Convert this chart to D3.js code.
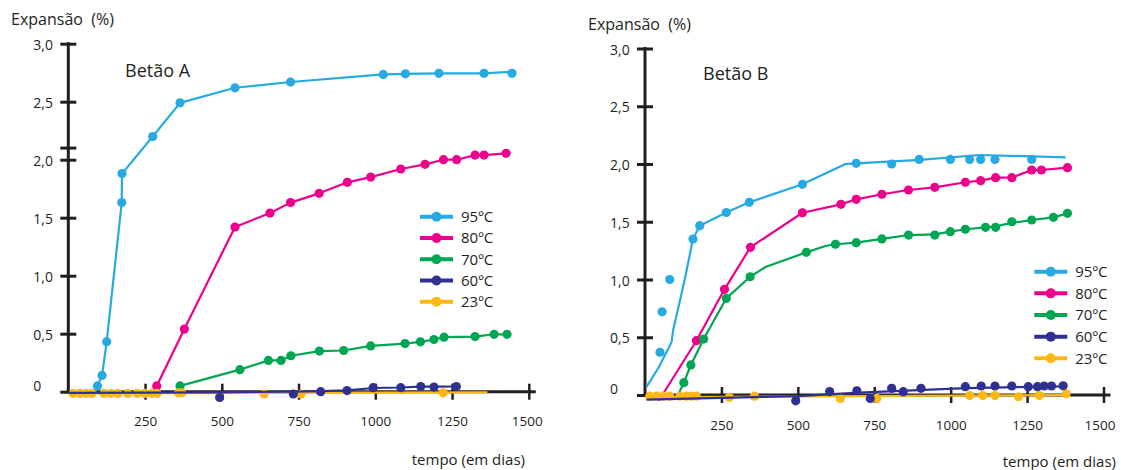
<!DOCTYPE html>
<html><head><meta charset="utf-8">
<script src="https://cdn.jsdelivr.net/npm/d3@7"></script>
<style>
body{margin:0;background:#fff}
text{font-family:"Open Sans",sans-serif;fill:#231f20}
</style>
</head><body>
<svg id="c" width="1121" height="470"></svg>
<script>
// ---------- shared labels / ticks ----------
const seriesNames = ["95ºC","80ºC","70ºC","60ºC","23ºC"];
const seriesColors = ["#27aae1","#ec008c","#00a651","#2e3192","#fdb913"];
const xTicks = [250,500,750,1000,1250,1500];
const yTicks = [0,0.5,1,1.5,2,2.5,3];
const yTickLabels = ["0","0,5","1,0","1,5","2,0","2,5","3,0"];
const panelTitles = ["Betão A","Betão B"];
const yTitle = "Expansão  (%)";
const xTitle = "tempo (em dias)";
const breakTickA = 2.1;

// ---------- Betão A (days, expansion %) ----------
const a95 = [[95,0.05],[110,0.14],[125,0.43],[174,1.63],[175,1.88],[275,2.20],[364,2.49],[543,2.62],[724,2.67],[1026,2.735],[1098,2.74],[1207,2.745],[1354,2.745],[1445,2.745]];
const a95Line = [[87,-0.01],[95,0.05],[110,0.14],[125,0.43],[174,1.63],[175,1.88],[275,2.20],[364,2.49],[543,2.62],[724,2.67],[1026,2.735],[1098,2.74],[1207,2.745],[1354,2.745],[1458,2.76]];
const a80 = [[288,0.05],[378,0.54],[543,1.42],[657,1.54],[724,1.63],[817,1.71],[909,1.805],[985,1.85],[1083,1.92],[1162,1.96],[1222,2.0],[1265,2.0],[1325,2.04],[1354,2.04],[1426,2.055]];
const a80Line = [[277,0],[288,0.05],[378,0.54],[543,1.42],[657,1.54],[724,1.63],[817,1.71],[909,1.805],[985,1.85],[1083,1.92],[1162,1.96],[1222,2.0],[1265,2.0],[1325,2.04],[1354,2.04],[1426,2.055]];
const a70 = [[364,0.05],[559,0.19],[652,0.27],[693,0.27],[725,0.31],[818,0.35],[897,0.355],[985,0.395],[1097,0.415],[1147,0.43],[1191,0.45],[1224,0.47],[1325,0.475],[1387,0.495],[1429,0.495]];
const a60 = [[493,-0.05],[733,-0.02],[822,0.0],[908,0.01],[993,0.035],[1083,0.035],[1148,0.045],[1191,0.04],[1264,0.045]];
const a60Line = [[0,-0.01],[493,-0.005],[733,0.0],[822,0.005],[908,0.012],[993,0.032],[1083,0.036],[1148,0.043],[1191,0.043],[1264,0.045]];
const a23 = [[16,-0.015],[38,-0.015],[58,-0.015],[77,-0.015],[116,-0.015],[139,-0.015],[162,-0.015],[194,-0.015],[225,-0.015],[249,-0.015],[272,-0.015],[289,-0.015],[359,-0.01],[370,-0.01],[638,-0.02],[758,-0.02],[1221,-0.01]];
const a23Line = [[0,-0.015],[1365,-0.005]];

// ---------- Betão B ----------
const b95 = [[49,0.37],[56,0.72],[81,1.0],[157,1.35],[179,1.466],[266,1.58],[341,1.668],[515,1.824],[691,2.006],[807,2.0],[897,2.04],[999,2.04],[1062,2.04],[1098,2.04],[1145,2.04],[1265,2.04]];
const b95Line = [[5,0.07],[45,0.24],[76,0.40],[87,0.46],[92,0.56],[130,1.0],[157,1.35],[179,1.466],[266,1.58],[341,1.668],[515,1.824],[656,2.0],[691,2.006],[900,2.035],[1094,2.078],[1376,2.058]];
const b80 = [[168,0.47],[260,0.915],[345,1.279],[515,1.578],[641,1.651],[691,1.694],[775,1.738],[862,1.775],[948,1.798],[1048,1.842],[1098,1.856],[1147,1.882],[1200,1.882],[1265,1.948],[1297,1.948],[1382,1.968]];
const b80Line = [[45,-0.05],[168,0.47],[260,0.915],[345,1.279],[515,1.578],[641,1.651],[691,1.694],[775,1.738],[862,1.775],[948,1.798],[1048,1.842],[1098,1.856],[1147,1.882],[1200,1.882],[1265,1.948],[1297,1.948],[1382,1.968]];
const b70 = [[127,0.107],[150,0.26],[192,0.485],[266,0.837],[344,1.024],[528,1.235],[623,1.305],[691,1.319],[775,1.351],[862,1.385],[948,1.385],[999,1.414],[1048,1.435],[1114,1.452],[1147,1.452],[1200,1.50],[1265,1.515],[1336,1.538],[1382,1.573]];
const b70Line = [[108,0],[127,0.107],[150,0.26],[192,0.485],[266,0.837],[344,1.024],[396,1.11],[528,1.235],[590,1.29],[623,1.305],[691,1.319],[775,1.351],[862,1.385],[948,1.39],[999,1.414],[1048,1.435],[1114,1.452],[1147,1.46],[1200,1.49],[1265,1.515],[1336,1.538],[1382,1.573]];
const b60 = [[493,-0.05],[604,0.03],[693,0.037],[737,-0.03],[807,0.058],[845,0.029],[903,0.058],[1048,0.072],[1100,0.078],[1145,0.078],[1200,0.078],[1254,0.072],[1284,0.072],[1306,0.078],[1330,0.078],[1368,0.08]];
const b60Line = [[5,-0.04],[500,-0.01],[700,0.02],[1050,0.06],[1371,0.075]];
const b23 = [[16,-0.01],[38,-0.01],[60,-0.01],[81,-0.01],[114,-0.01],[135,-0.01],[152,-0.01],[168,-0.01],[276,-0.02],[358,-0.01],[639,-0.03],[758,-0.03],[1062,-0.005],[1105,-0.005],[1145,-0.005],[1222,-0.015],[1290,-0.005],[1378,0.01]];
const b23Line = [[0,-0.02],[1378,0.0]];

const svg = d3.select("#c");
const ink = "#231f20";

function panel(cfg){
  const x = d3.scaleLinear().domain([0,1500]).range([cfg.x0, cfg.x1]);
  const y = d3.scaleLinear().domain([0,3]).range([cfg.y0, cfg.y1]);
  const g = svg.append("g");

  // y axis
  const yg = g.append("g").attr("transform",`translate(${cfg.x0},0)`)
    .call(d3.axisLeft(y).tickValues(yTicks).tickFormat((d,i)=>yTickLabels[i]).tickSizeInner(8).tickSizeOuter(0));
  yg.select(".domain").remove();
  yg.selectAll(".tick line").attr("x1",8).attr("x2",-8).attr("stroke",ink).attr("stroke-width",3);
  yg.selectAll(".tick text").attr("x",-35).attr("text-anchor","start")
    .attr("dy",d=>d===0?"-0.1em":"0.4em").style("font-size","14px");
  if(cfg.breakTick!=null){
    g.append("line").attr("x1",cfg.x0-8).attr("x2",cfg.x0+8)
      .attr("y1",y(cfg.breakTick)).attr("y2",y(cfg.breakTick)).attr("stroke",ink).attr("stroke-width",3);
  }
  g.append("line").attr("x1",cfg.x0).attr("x2",cfg.x0).attr("y1",y(3)-1.5).attr("y2",y(0)+1.5)
    .attr("stroke",ink).attr("stroke-width",3);

  // x axis
  const xg = g.append("g").attr("transform",`translate(0,${cfg.y0})`)
    .call(d3.axisBottom(x).tickValues(xTicks).tickFormat(d3.format("d")).tickSizeInner(8).tickSizeOuter(0));
  xg.select(".domain").remove();
  xg.selectAll(".tick line").attr("y1",-8).attr("y2",8).attr("stroke",ink).attr("stroke-width",2.5);
  xg.selectAll(".tick text").attr("y",25).attr("dx",d=>d===1500?cfg.lastLabelDx:0).style("font-size","13.5px");
  g.append("line").attr("x1",cfg.x0-1.5).attr("x2",x(1500)+7).attr("y1",cfg.y0).attr("y2",cfg.y0)
    .attr("stroke",ink).attr("stroke-width",3);

  // titles
  g.append("text").attr("x",cfg.titleX).attr("y",cfg.titleY).style("font-size","18px").text(cfg.title);
  g.append("text").attr("x",cfg.yTitleX).attr("y",cfg.yTitleY).style("font-size","16px")
    .style("white-space","pre").text(yTitle);
  g.append("text").attr("x",cfg.xTitleX).attr("y",cfg.xTitleY).attr("text-anchor","end")
    .style("font-size","15px").text(xTitle);

  // series
  const line = d3.line().x(d=>x(d[0])).y(d=>y(d[1]));
  const order = [0,1,2,4,3];
  order.forEach(i=>{
    const s = cfg.series[i];
    g.append("path").attr("d",line(s.line)).attr("fill","none")
      .attr("stroke",seriesColors[i]).attr("stroke-width",2.2).attr("stroke-linejoin","round");
    g.append("g").selectAll("circle").data(s.pts).join("circle")
      .attr("cx",d=>x(d[0])).attr("cy",d=>y(d[1])).attr("r",4.6).attr("fill",seriesColors[i]);
  });

  // legend
  seriesNames.forEach((n,i)=>{
    const ly = cfg.legY + i*cfg.legDy;
    g.append("line").attr("x1",cfg.legX).attr("x2",cfg.legX+33).attr("y1",ly).attr("y2",ly)
      .attr("stroke",seriesColors[i]).attr("stroke-width",4);
    g.append("circle").attr("cx",cfg.legX+16.5).attr("cy",ly).attr("r",5).attr("fill",seriesColors[i]);
    g.append("text").attr("x",cfg.legX+41).attr("y",ly).attr("dy","0.36em").style("font-size","15px").text(n);
  });
}

panel({x0:68.3, x1:528.8, y0:391.7, y1:43.7, breakTick:breakTickA,
  title:panelTitles[0], titleX:125, titleY:77,
  yTitleX:11, yTitleY:25, xTitleX:525, xTitleY:465, lastLabelDx:-2,
  legX:420, legY:216.7, legDy:21.25,
  series:[{pts:a95,line:a95Line},{pts:a80,line:a80Line},{pts:a70,line:a70},{pts:a60,line:a60Line},{pts:a23,line:a23Line}]});

panel({x0:645, x1:1103.5, y0:395, y1:48.5, breakTick:null,
  title:panelTitles[1], titleX:703, titleY:79.5,
  yTitleX:588, yTitleY:30, xTitleX:1116, xTitleY:467, lastLabelDx:-4,
  legX:1034.3, legY:271.7, legDy:21.65,
  series:[{pts:b95,line:b95Line},{pts:b80,line:b80Line},{pts:b70,line:b70Line},{pts:b60,line:b60Line},{pts:b23,line:b23Line}]});
</script>
</body></html>
